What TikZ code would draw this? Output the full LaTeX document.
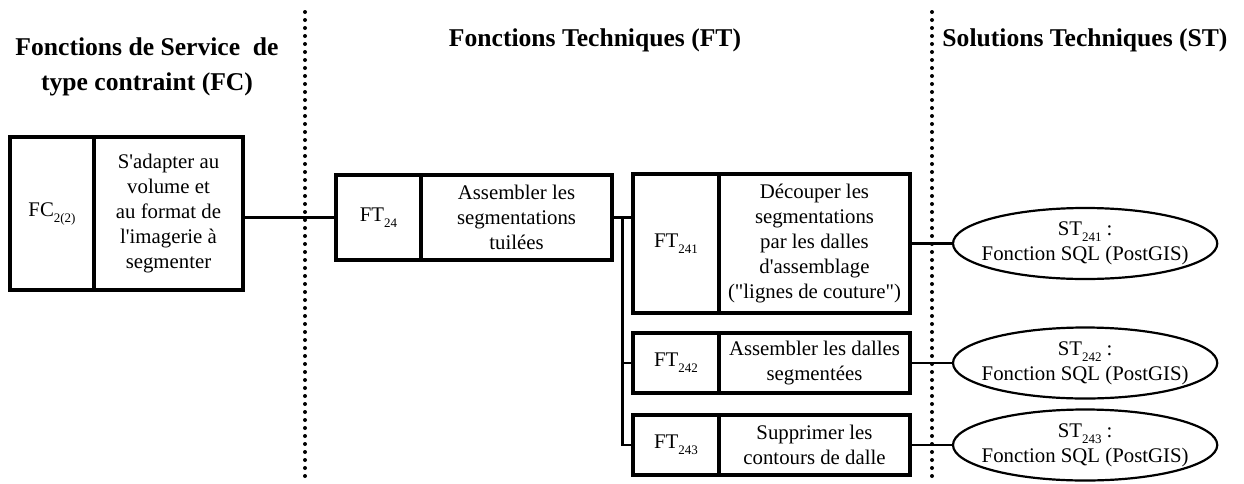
\documentclass[tikz,border=0pt]{standalone}
\usepackage{fontspec}
\setmainfont{Liberation Serif}[Ligatures=TeXOff]
\usetikzlibrary{shapes.geometric, positioning, calc}

\newcommand{\bodyfont}{\fontsize{10.4}{12.5}\selectfont}
\newcommand{\headfont}{\fontsize{12.8}{17.5}\selectfont\bfseries}
\newcommand{\idx}[1]{\raisebox{-3pt}{\fontsize{6.5}{6.5}\selectfont#1}}

\begin{document}
\begin{tikzpicture}[
    x=0.5pt, y=-0.5pt,
    every node/.style={font=\bodyfont},
    idbox/.style={rectangle, draw, line width=1.6pt, outer sep=0pt, inner sep=2pt, align=center, minimum width=43pt},
    txtbox/.style={idbox, minimum width=95.5pt},
    soln/.style={ellipse, draw, line width=1.1pt, outer sep=0pt, inner xsep=-5pt, inner ysep=0pt, minimum width=132pt, minimum height=35.5pt, align=center},
    heading/.style={font=\headfont, align=center},
    link/.style={line width=1.1pt},
    sepline/.style={line width=2pt, line cap=round, dash pattern=on 0pt off 4pt}
]
\useasboundingbox (0,0) rectangle (1244,483);

% Columns
\draw[sepline] (305,12) -- (305,483);
\draw[sepline] (932,12) -- (932,483);

\node[heading] (hfc) at (147,67) {Fonctions de Service~~de\\type contraint (FC)};
\node[heading, anchor=base] (hft) at (595,46) {Fonctions Techniques (FT)};
\node[heading, anchor=base] (hst) at (1085,46) {Solutions Techniques (ST)};

% Service function
\node[idbox, anchor=north west, minimum width=42pt, minimum height=76.5pt] (fc) at (10,137) {FC\idx{2(2)}};
\node[txtbox, right=0pt of fc, minimum width=74.5pt, minimum height=76.5pt] (fctxt) {S'adapter au\\volume et\\au format de\\l'imagerie à\\segmenter};

% Technical functions
\node[idbox, anchor=north west, minimum width=42.5pt, minimum height=42.5pt] (ft24) at (336,175) {FT\idx{24}};
\node[txtbox, right=0pt of ft24, minimum height=42.5pt] (ft24txt) {Assembler les\\segmentations\\tuilées};

\node[idbox, anchor=north west, minimum height=69.5pt] (ft241) at (633,174) {FT\idx{241}};
\node[txtbox, right=0pt of ft241, minimum height=69.5pt] (ft241txt) {Découper les\\segmentations\\par les dalles\\d'assemblage\\("lignes de couture")};

\node[idbox, anchor=north west, minimum height=30pt] (ft242) at (633,333) {FT\idx{242}};
\node[txtbox, right=0pt of ft242, minimum height=30pt] (ft242txt) {Assembler les dalles\\segmentées};

\node[idbox, anchor=north west, minimum height=30pt] (ft243) at (633,415) {FT\idx{243}};
\node[txtbox, right=0pt of ft243, minimum height=30pt] (ft243txt) {Supprimer les\\contours de dalle};

% Technical solutions
\node[soln, right=21.5pt of ft241txt] (st241) {ST\idx{241} :\\Fonction SQL (PostGIS)};
\node[soln, right=21.5pt of ft242txt] (st242) {ST\idx{242} :\\Fonction SQL (PostGIS)};
\node[soln, right=21.5pt of ft243txt] (st243) {ST\idx{243} :\\Fonction SQL (PostGIS)};

% Links
\coordinate (bus) at ($(ft24txt.east)!0.5!(ft24txt.east -| ft241.west)$);
\draw[link] (fctxt.east |- ft24.west) -- (ft24.west);
\draw[link] (ft24txt.east) -- (ft24txt.east -| ft241.west);
\draw[link] (bus) |- (ft242.west);
\draw[link] (bus) |- (ft243.west);
\draw[link] (ft241txt) -- (st241);
\draw[link] (ft242txt) -- (st242);
\draw[link] (ft243txt) -- (st243);

\end{tikzpicture}
\end{document}
